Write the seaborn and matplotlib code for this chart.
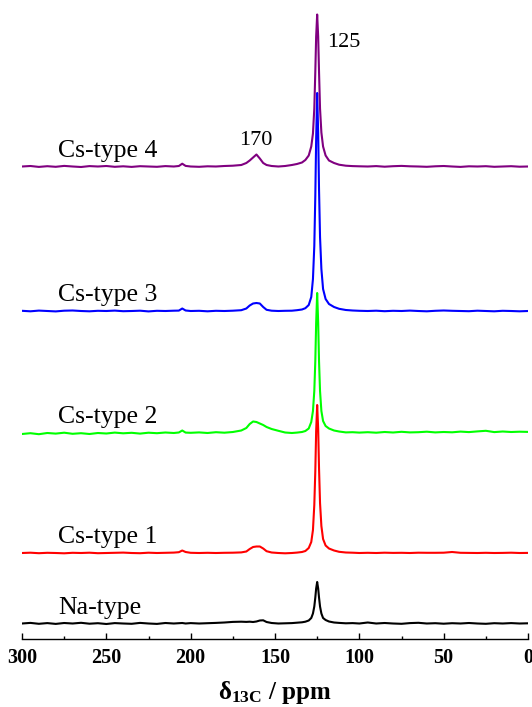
import matplotlib
matplotlib.use("Agg")
import matplotlib.pyplot as plt
import pandas as pd
import seaborn as sns
from matplotlib.ticker import MultipleLocator

# chemical shift grid (ppm)
ppm = [300, 295, 290, 285, 280, 275, 270, 265, 260, 255, 250, 245, 240, 235, 230, 225, 220, 215, 210,
       207, 205, 203, 200, 195, 190, 185, 180, 175, 170, 167, 165, 163, 161, 159, 157, 155, 152, 148, 144,
       140, 137, 134, 132, 130, 128.5, 127.5, 126.7, 126.1, 125.6, 125.0, 124.4, 123.9, 123.3, 122.5, 121.5,
       120, 118, 115, 112, 108, 104, 100,
       95, 90, 85, 80, 75, 70, 65, 60, 55, 50, 45, 40, 35, 30, 25, 20, 15, 10, 5, 0]

# intensities (arbitrary units)
na_type = [0, 0.6, -0.3, 0.4, -0.4, 0.5, 0, 0.7, -0.2, 0.3, -0.5, 0.4, 0, -0.3, 0.6, 0, -0.4, 0.5, 0,
           0.3, 0.5, 0, 0.4, 0, 0.3, 0.6, 1, 1.6, 1.8, 1.6, 1.8, 1.5, 2, 3, 3.2, 1.5, 0.5, 0, 0.2,
           0.4, 0.8, 1.2, 1.8, 3, 5.5, 10, 17, 26, 35, 41.5, 35, 26, 17, 10, 5.5,
           3.5, 2, 1, 0.6, 0.2, 0.4, 0,
           1.0, 0, 0.5, 0, -0.3, 0.4, 0.7, 0, 0.3, -0.2, 0.3, 0, 0.5, 0, -0.3, 0.3, 0, 0.4, 0, 0.2]

cs_type1 = [0, 0.3, -0.2, 0.2, 0, -0.3, 0.2, 0, 0.3, -0.2, 0, 0.2, 0.4, 0, -0.2, 0.3, 0, 0.2, 0.4,
            0.8, 2.5, 1, 0.2, 0, 0.2, 0, 0.2, 0.3, 0.6, 1.5, 4, 6, 6.5, 6.5, 4.5, 1.8, 0.5, 0, -0.3,
            0, 0.4, 1, 2, 5, 11, 23, 48, 82, 122, 148, 124, 85, 50, 27, 14,
            7.5, 4.5, 2.5, 1.2, 0.5, 0.3, 0,
            0.2, 0, 0.3, 0.1, 0.2, 0, 0.3, 0.2, 0.2, 0.3, 1.0, 0.2, 0.1, 0, 0.2, 0, 0.1, 0.3, 0, 0.1]

cs_type2 = [-1, -0.2, -1.2, 0, -0.6, 0.3, -0.8, -0.2, -1, 0, -0.5, 0.4, -0.3, 0.2, -0.6, 0.3, -0.2, 0.5, 0,
            0.5, 2.5, 0.4, 0.2, 0.6, 0, 0.8, 0.3, 1, 2.5, 5, 9, 11.5, 11, 9.5, 8, 6, 4, 2.2, 0.5,
            0, 0.4, 1, 2, 4.5, 11, 22, 42, 72, 110, 140, 110, 72, 42, 22, 12,
            7, 4.5, 2.5, 1.5, 0.6, 0.8, 0.4,
            0.8, 0.3, 1, 0.5, 1.2, 0.6, 0.8, 1.3, 0.6, 1, 0.7, 1.4, 0.9, 1.6, 2.2, 0.9, 1.5, 1.0, 1.3, 1.1]

cs_type3 = [0.2, -0.3, 0.4, 0, -0.4, 0.3, 0.5, 0, -0.3, 0.2, 0, 0.4, -0.2, 0, 0.3, -0.4, 0.2, 0, 0.3,
            0.4, 2.5, 0.5, 0, 0.2, -0.3, 0.2, 0, 0.3, 0.8, 2.5, 5.5, 7.5, 8, 7.5, 4, 1.2, 0.3, 0, 0.2,
            0.3, 0.8, 1.5, 2.8, 6, 14, 32, 65, 115, 172, 218, 178, 122, 74, 42, 22,
            12, 7, 4, 2.2, 1, 0.5, 0.2,
            0, 0.3, -0.2, 0.2, 0, 0.4, 0, -0.3, 0.2, 0.5, 0.2, 0, -0.2, 0.3, 0, -0.3, 0.2, 0, -0.3, 0]

cs_type4 = [0, 0.5, -0.4, 0.3, -0.3, 0.6, 0, -0.5, 0.4, 0, 0.5, -0.3, 0.2, -0.4, 0.3, 0, -0.3, 0.4, 0,
            0.5, 2.8, 0.6, 0, -0.3, 0.2, 0, 0.5, 0.8, 1.5, 3.5, 6, 9, 12, 8, 3.5, 1.5, 0.5, 0, 0.5,
            1.5, 2.5, 4, 6.5, 11, 20, 33, 58, 95, 130, 152, 130, 95, 58, 34, 20,
            11, 6, 3.5, 1.8, 0.8, 0.4, 0.2,
            0, 0.4, -0.2, 0.3, 0.6, 0.2, 0, -0.3, 0.2, 0.5, 0, -0.4, 0.2, 0, 0.3, -0.3, 0, 0.3, -0.2, 0]

samples = ["Na-type", "Cs-type 1", "Cs-type 2", "Cs-type 3", "Cs-type 4"]
series = [na_type, cs_type1, cs_type2, cs_type3, cs_type4]
colors = ["#000000", "#FF0000", "#00FF00", "#0000FF", "#800080"]
offsets = [15, 85.5, 205.5, 327.5, 472]

xticks = [300, 250, 200, 150, 100, 50, 0]
xtick_labels = ["300", "250", "200", "150", "100", "50", "0"]

sns.set_style("ticks")
plt.rcParams["font.family"] = ["Liberation Serif", "DejaVu Serif"]
plt.rcParams["mathtext.fontset"] = "custom"
plt.rcParams["mathtext.rm"] = "Liberation Serif"
plt.rcParams["mathtext.bf"] = "Liberation Serif:bold"
plt.rcParams["mathtext.it"] = "Liberation Serif:italic"
for key in ["text.color", "axes.labelcolor", "xtick.color", "ytick.color", "axes.edgecolor"]:
    plt.rcParams[key] = "black"

rows = []
for name, vals, off in zip(samples, series, offsets):
    assert len(vals) == len(ppm), name
    for p, v in zip(ppm, vals):
        rows.append((name, p, v + off))
df = pd.DataFrame(rows, columns=["sample", "ppm", "y"])

fig = plt.figure(figsize=(5.32, 7.07), dpi=100)
ax = fig.add_axes([22 / 532, 68.5 / 707, 506 / 532, 638.5 / 707])
sns.lineplot(data=df, x="ppm", y="y", hue="sample", hue_order=samples,
             palette=dict(zip(samples, colors)), estimator=None, sort=False,
             legend=False, linewidth=1.5, ax=ax)

ax.set_xlim(300, 0)
ax.set_ylim(0, 638.5)
for s in ["left", "right", "top"]:
    ax.spines[s].set_visible(False)
ax.spines["bottom"].set_linewidth(1.0)
ax.spines["bottom"].set_color("black")
ax.set_yticks([])
ax.set_ylabel("")
ax.set_xticks(xticks)
ax.set_xticklabels(xtick_labels, fontweight="bold", fontsize=14.5, color="black")
ax.xaxis.set_minor_locator(MultipleLocator(25))
ax.tick_params(axis="x", which="major", direction="in", length=4.0, width=1.0, pad=7, color="black")
ax.tick_params(axis="x", which="minor", direction="in", length=2.0, width=1.0, color="black")
ax.set_xlabel("δ$_{\\mathbf{13C}}$ / ppm", fontweight="bold", fontsize=18, labelpad=8, color="black")

# sample labels
label_x = 278.7
for name, off in zip(samples, offsets):
    ax.text(label_x, off + 9.5, name, fontsize=18.5, ha="left", va="baseline", color="black")

# peak annotations
ax.text(161.3, 493.5, "170", fontsize=16, ha="center", va="baseline", color="black")
ax.text(119.0, 591.8, "125", fontsize=16, ha="left", va="baseline", color="black")

fig.savefig("out.png", dpi=100)
